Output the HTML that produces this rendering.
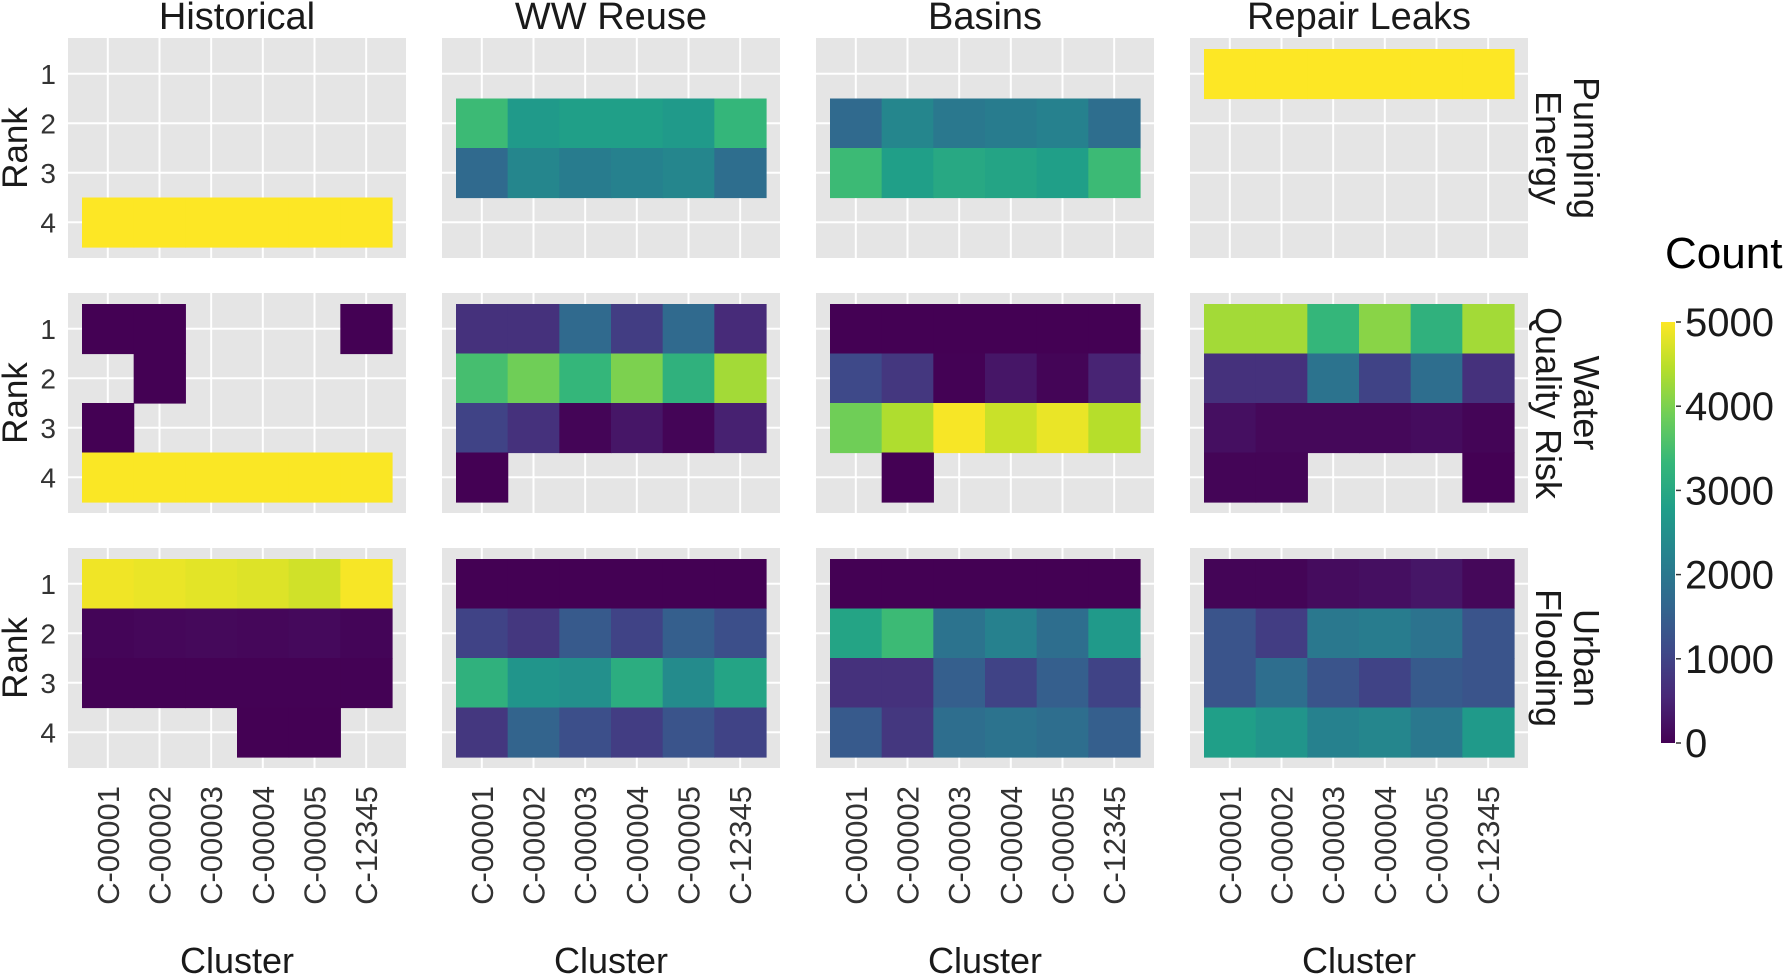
<!DOCTYPE html>
<html><head><meta charset="utf-8">
<style>
html,body{margin:0;padding:0;background:#fff;}
svg{display:block;font-family:"Liberation Sans",Arial,sans-serif;}
</style></head>
<body>
<svg id="chart" width="1786" height="974" viewBox="0 0 1786 974" xmlns="http://www.w3.org/2000/svg"></svg>
<script>
const clusters = ["C-00001","C-00002","C-00003","C-00004","C-00005","C-12345"];
const ranks = [1,2,3,4];
const scenarios = ["Historical","WW Reuse","Basins","Repair Leaks"];
const objectives = [["Pumping","Energy"],["Water","Quality Risk"],["Urban","Flooding"]];
const colorTicks = [0,1000,2000,3000,4000,5000];
const N = null;
// values[rank][cluster]
const histPE = [[N,N,N,N,N,N],[N,N,N,N,N,N],[N,N,N,N,N,N],[5000,5000,5000,5000,5000,5000]];
const histWQ = [[0,0,N,N,N,0],[N,0,N,N,N,N],[0,N,N,N,N,N],[4980,4980,4980,4980,4980,4980]];
const histUF = [[4900,4850,4800,4750,4650,4950],[60,90,110,90,120,60],[10,10,10,10,10,10],[N,N,N,0,0,N]];
const wwPE = [[N,N,N,N,N,N],[3400,2700,2800,2800,2700,3300],[1700,2300,2100,2200,2300,1800],[N,N,N,N,N,N]];
const wwWQ = [[700,700,1700,900,1700,600],[3500,3900,3300,4000,3200,4300],[1000,700,50,300,50,450],[0,N,N,N,N,N]];
const wwUF = [[0,0,0,0,0,0],[1000,800,1400,1000,1500,1200],[3200,2600,2500,3100,2400,2900],[800,1600,1200,900,1300,1000]];
const baPE = [[N,N,N,N,N,N],[1700,2300,2000,2100,2200,1800],[3400,2800,3000,2900,2800,3400],[N,N,N,N,N,N]];
const baWQ = [[0,0,0,0,0,0],[1100,800,20,300,50,500],[3900,4400,4950,4600,4850,4450],[N,0,N,N,N,N]];
const baUF = [[0,0,0,0,0,0],[2900,3400,1900,2200,1800,2700],[700,700,1500,1000,1500,1000],[1400,800,1800,1900,1800,1500]];
const rlPE = [[5000,5000,5000,5000,5000,5000],[N,N,N,N,N,N],[N,N,N,N,N,N],[N,N,N,N,N,N]];
const rlWQ = [[4300,4300,3300,4100,3200,4300],[700,700,1900,1000,1800,700],[200,100,100,100,150,50],[50,50,N,N,N,0]];
const rlUF = [[50,50,150,200,300,100],[1300,900,2000,2100,1900,1300],[1300,1800,1300,1000,1400,1300],[2800,2600,2200,2300,2000,2700]];
const grid = [[histPE,wwPE,baPE,rlPE],[histWQ,wwWQ,baWQ,rlWQ],[histUF,wwUF,baUF,rlUF]];
const vmin=0, vmax=5000;

const VIR=[[68,1,84],[72,40,120],[62,74,137],[49,104,142],[38,130,142],[31,158,137],[53,183,121],[110,206,88],[181,222,43],[253,231,37]];
function viridis(t){t=Math.max(0,Math.min(1,t));const p=t*(VIR.length-1);const i=Math.min(Math.floor(p),VIR.length-2);const f=p-i;
 const c=VIR[i].map((v,k)=>Math.round(v+(VIR[i+1][k]-v)*f));return `rgb(${c[0]},${c[1]},${c[2]})`;}
const svg=document.getElementById('chart');const NS="http://www.w3.org/2000/svg";
function mk(tag,attrs,parent){const e=document.createElementNS(NS,tag);for(const k in attrs)e.setAttribute(k,attrs[k]);(parent||svg).appendChild(e);return e;}
const PX0=68,PSTEP=374,PW=338,PY0=38,PYSTEP=255,PH=220,PADX=14,PADY=11;
const cellW=(PW-2*PADX)/clusters.length, cellH=(PH-2*PADY)/ranks.length;
function xs(p,i){return PX0+p*PSTEP+PADX+i*cellW;}
function ys(r,j){return PY0+r*PYSTEP+PADY+j*cellH;}
function cscale(v){return (v-vmin)/(vmax-vmin);}

for(let r=0;r<3;r++){for(let p=0;p<4;p++){
 const g=mk('g',{});
 
 
 const bg=mk('rect',{x:PX0+p*PSTEP,y:PY0+r*PYSTEP,width:PW,height:PH,fill:'#e5e5e5'},g);
 
 
 for(let i=0;i<clusters.length;i++){const x=xs(p,i)+cellW/2;const l=mk('line',{x1:x,x2:x,y1:PY0+r*PYSTEP,y2:PY0+r*PYSTEP+PH,stroke:'#fff','stroke-width':2},g);
  }
 for(let j=0;j<ranks.length;j++){const y=ys(r,j)+cellH/2;const l=mk('line',{y1:y,y2:y,x1:PX0+p*PSTEP,x2:PX0+p*PSTEP+PW,stroke:'#fff','stroke-width':2},g);
  }
 const data=grid[r][p];
 for(let j=0;j<ranks.length;j++)for(let i=0;i<clusters.length;i++){const v=data[j][i];if(v===null)continue;
  const c=viridis(cscale(v));
  const cell=mk('rect',{x:xs(p,i),y:ys(r,j),width:cellW+0.6,height:cellH+0.6,fill:c},g);
  
  }
}}
// column titles
for(let p=0;p<4;p++){const t=mk('text',{x:PX0+p*PSTEP+PW/2,y:29,'text-anchor':'middle','font-size':38,fill:'#1a1a1a'});t.textContent=scenarios[p];
 }
// row strip labels
for(let r=0;r<3;r++){const cy=PY0+r*PYSTEP+PH/2;
 const t=mk('text',{transform:`translate(1560,${cy}) rotate(90)`,'text-anchor':'middle','font-size':36,fill:'#1a1a1a'});
 
 const a=mk('tspan',{x:0,y:-14},t);a.textContent=objectives[r][0];
 const b=mk('tspan',{x:0,y:24},t);b.textContent=objectives[r][1];
 const yl=mk('text',{transform:`translate(27,${cy}) rotate(-90)`,'text-anchor':'middle','font-size':35,fill:'#1a1a1a'});yl.textContent='Rank';
 
 for(let j=0;j<ranks.length;j++){const tl=mk('text',{x:56,y:ys(r,j)+cellH/2+10,'text-anchor':'end','font-size':28,fill:'#333'});tl.textContent=ranks[j];
  }
}
// x tick labels & titles
for(let p=0;p<4;p++){for(let i=0;i<clusters.length;i++){const x=xs(p,i)+cellW/2;
  const t=mk('text',{transform:`translate(${x+11},786) rotate(-90)`,'text-anchor':'end','font-size':31,fill:'#333'});t.textContent=clusters[i];
  }
 const xt=mk('text',{x:PX0+p*PSTEP+PW/2,y:973,'text-anchor':'middle','font-size':36,fill:'#1a1a1a'});xt.textContent='Cluster';
 }
// colorbar
const CB_X=1661,CB_W=14,CB_TOP=322,CB_BOT=743;
const defs=mk('defs',{});const lg=mk('linearGradient',{id:'vg',x1:0,y1:1,x2:0,y2:0},defs);
for(let k=0;k<VIR.length;k++){mk('stop',{offset:(k/(VIR.length-1)),'stop-color':`rgb(${VIR[k].join(',')})`},lg);}
const cb=mk('rect',{x:CB_X,y:CB_TOP,width:CB_W,height:CB_BOT-CB_TOP,fill:'url(#vg)'});

function cby(v){return CB_BOT-(v-vmin)/(vmax-vmin)*(CB_BOT-CB_TOP);}
for(const v of colorTicks){const y=cby(v);mk('line',{x1:CB_X+CB_W+1,x2:CB_X+CB_W+6,y1:y,y2:y,stroke:'#333','stroke-width':1.5});
 const t=mk('text',{x:CB_X+CB_W+10,y:y+14,'font-size':40,fill:'#1a1a1a'});t.textContent=v;
 }
const ct=mk('text',{x:1665,y:268,'font-size':44,fill:'#000'});ct.textContent='Count';

</script>
</body></html>
